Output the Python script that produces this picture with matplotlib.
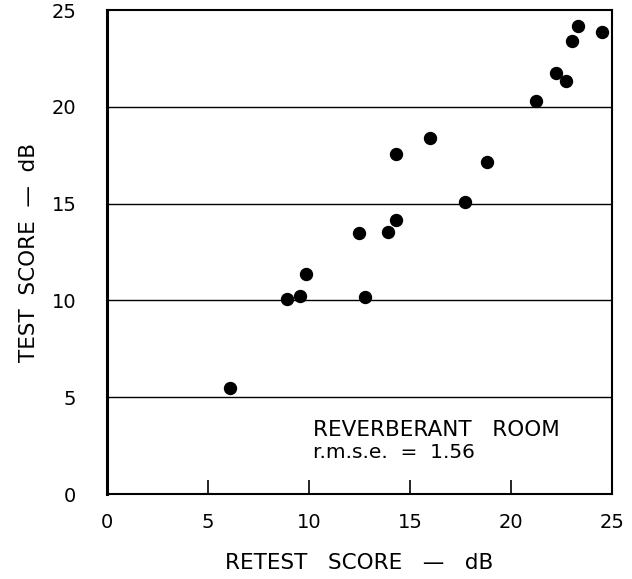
import matplotlib.pyplot as plt

# Retest vs test scores (dB)
retest = [6.1, 8.9, 9.55, 9.85, 12.75, 12.45, 13.9, 14.3, 14.3, 16.0,
          17.7, 18.8, 21.25, 22.25, 22.7, 23.0, 23.3, 24.5]
test = [5.45, 10.05, 10.25, 11.35, 10.2, 13.5, 13.55, 14.15, 17.55, 18.4,
        15.1, 17.15, 20.3, 21.75, 21.35, 23.4, 24.2, 23.85]

ticks = [0, 5, 10, 15, 20, 25]

plt.rcParams['font.family'] = ['DejaVu Sans']

fig = plt.figure(figsize=(6.32, 5.79), dpi=100)
ax = fig.add_axes([0.1693, 0.1468, 0.7991, 0.8359])

# horizontal grid lines
for y in ticks[1:-1]:
    ax.axhline(y, color='black', lw=1.0, zorder=1)

ax.plot(retest, test, 'o', color='black', markersize=8.6, zorder=3)

ax.set_xlim(0, 25)
ax.set_ylim(0, 25)
ax.set_xticks(ticks)
ax.set_yticks(ticks)
ax.tick_params(axis='x', direction='in', length=10, width=1.2, pad=14,
               labelsize=14)
ax.tick_params(axis='y', length=0, pad=22, labelsize=14)

for side in ['top', 'right', 'bottom']:
    ax.spines[side].set_linewidth(1.5)
ax.spines['left'].set_linewidth(2.2)

ax.set_xlabel('RETEST   SCORE   —   dB', fontsize=15.5, labelpad=15)
ax.set_ylabel('TEST  SCORE  —  dB', fontsize=15.5, labelpad=9)

ax.text(10.2, 3.33, 'REVERBERANT   ROOM', fontsize=15.5, va='center')
ax.text(10.2, 2.14, 'r.m.s.e.  =  1.56', fontsize=14.5, va='center')

fig.savefig('out.png', dpi=100)
